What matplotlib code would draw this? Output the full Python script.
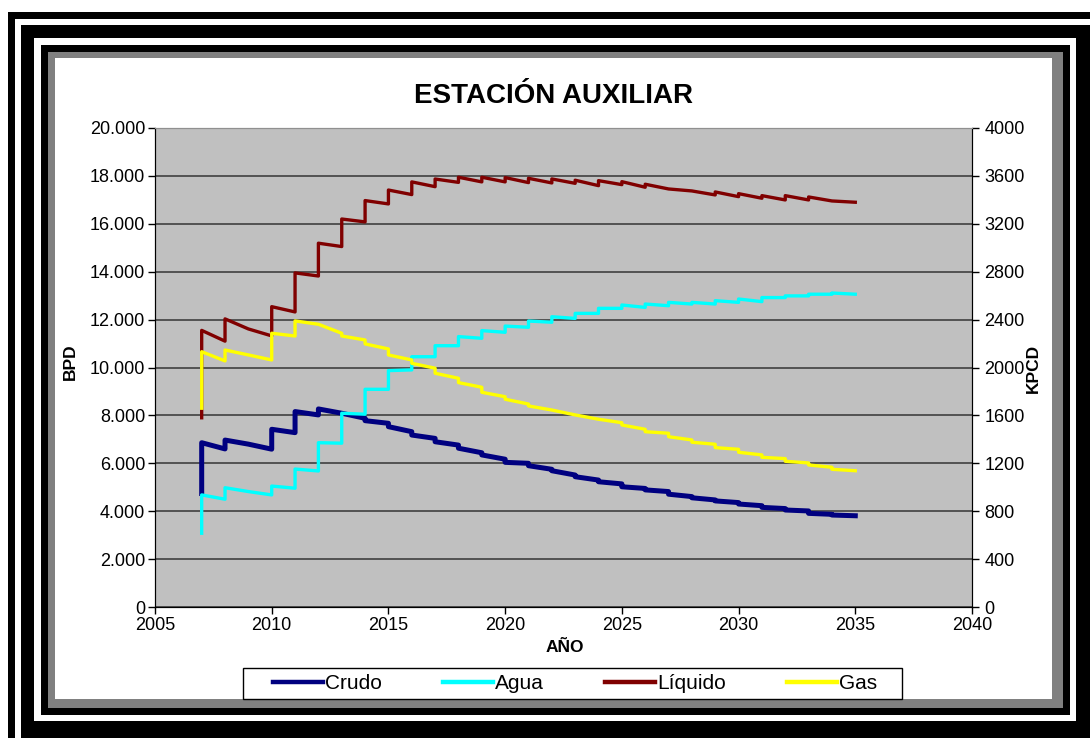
import matplotlib
matplotlib.use("Agg")
import matplotlib.pyplot as plt
from matplotlib.patches import Rectangle
from matplotlib.ticker import FuncFormatter, MultipleLocator

plt.rcParams['font.family'] = ['Liberation Sans', 'DejaVu Sans']

# años de cada salto (escalón anual)
anios = list(range(2007, 2036))

# valor al final del año anterior (antes del salto) y al inicio del año (después del salto)
crudo_fin = [4740, 6600, 6800, 6590, 7280, 8020, 8090, 7880, 7670, 7320, 7040, 6760, 6440, 6170,
             6000, 5750, 5510, 5300, 5140, 4950, 4820, 4610, 4470, 4360, 4230, 4110, 4010, 3870, 3810]
crudo_ini = [6860, 6970, 6800, 7420, 8160, 8270, 8090, 7780, 7530, 7180, 6900, 6630, 6350, 6040,
             5900, 5690, 5440, 5230, 5020, 4890, 4710, 4560, 4430, 4300, 4160, 4050, 3910, 3840, 3810]

agua_fin = [3080, 4500, 4820, 4680, 4960, 5680, 6840, 8050, 9090, 9900, 10450, 10910, 11220, 11470,
            11680, 11890, 12050, 12260, 12470, 12510, 12580, 12650, 12650, 12720, 12750, 12920, 12990, 13060, 13060]
agua_ini = [4680, 4980, 4820, 5050, 5760, 6860, 8090, 9090, 9870, 10450, 10910, 11290, 11540, 11730,
            11940, 12120, 12260, 12470, 12610, 12650, 12720, 12720, 12790, 12860, 12920, 12990, 13060, 13110, 13060]

liquido_fin = [7900, 11100, 11610, 11320, 12320, 13820, 15050, 16080, 16830, 17220, 17550, 17730, 17750, 17750,
               17720, 17706, 17690, 17593, 17635, 17526, 17455, 17372, 17205, 17134, 17067, 16996, 16996, 16954, 16900]
liquido_ini = [11550, 12030, 11610, 12540, 13950, 15190, 16200, 16970, 17410, 17750, 17870, 17945, 17945, 17930,
               17900, 17873, 17820, 17802, 17760, 17652, 17455, 17372, 17330, 17259, 17176, 17176, 17121, 16954, 16900]

# gas en KPCD (eje derecho)
gas_fin = [1660, 2055, 2105, 2063, 2263, 2361, 2286, 2230, 2155, 2063, 1994, 1910, 1835, 1756,
           1695, 1645, 1604, 1568, 1539, 1484, 1451, 1395, 1359, 1317, 1270, 1239, 1203, 1167, 1138]
gas_ini = [2132, 2146, 2105, 2286, 2389, 2361, 2263, 2197, 2105, 2035, 1952, 1874, 1793, 1735,
           1679, 1645, 1604, 1568, 1520, 1464, 1422, 1376, 1331, 1292, 1250, 1217, 1186, 1150, 1138]


def escalon(xs_anios, fin, ini):
    xs, ys = [], []
    for a, f, i in zip(xs_anios, fin, ini):
        xs += [a, a]
        ys += [f, i]
    return xs, ys


W, H = 1090, 738
fig = plt.figure(figsize=(W / 100, H / 100), dpi=100)

# marco decorativo (coordenadas en pixeles)
bg = fig.add_axes([0, 0, 1, 1], zorder=-10)
bg.set_xlim(0, W)
bg.set_ylim(H, 0)
bg.axis('off')
marcos = [
    (8, 12, 1200, 1000, 'black'),
    (15, 19, 1200, 1000, 'white'),
    (21, 25, 1200, 1000, 'black'),
    (34, 38, 1076 - 34, 721 - 38, 'white'),
    (41, 45, 1070 - 41, 715 - 45, 'black'),
    (48, 52, 1063 - 48, 708 - 52, '#808080'),
    (55, 58, 1052 - 55, 699 - 58, 'white'),
]
for x, y, w, h, c in marcos:
    bg.add_patch(Rectangle((x, y), w, h, facecolor=c, edgecolor='none'))
# caja de la leyenda
bg.add_patch(Rectangle((243, 668), 902 - 243, 31, facecolor='white', edgecolor='black', lw=1))

ax = fig.add_axes([155 / W, 1 - 607 / H, (972 - 155) / W, (607 - 128) / H])
ax.set_facecolor('#C0C0C0')

x, y = escalon(anios, crudo_fin, crudo_ini)
ax.plot(x, y, color='#000080', lw=3.6, label='Crudo', solid_joinstyle='round')
x, y = escalon(anios, agua_fin, agua_ini)
ax.plot(x, y, color='#00FFFF', lw=2.4, label='Agua')
x, y = escalon(anios, liquido_fin, liquido_ini)
ax.plot(x, y, color='#800000', lw=2.4, label='Líquido')

ax.set_xlim(2005, 2040)
ax.set_ylim(0, 20000)
ax.xaxis.set_major_locator(MultipleLocator(5))
ax.yaxis.set_major_locator(MultipleLocator(2000))
ax.yaxis.set_major_formatter(FuncFormatter(lambda v, p: f"{int(v):,}".replace(",", ".")))
ax.grid(axis='y', color='#404040', lw=1.2)
ax.set_axisbelow(True)
ax.tick_params(direction='out', length=5, width=1, labelsize=13, colors='black', pad=2)
for s in ['left', 'bottom', 'right']:
    ax.spines[s].set_color('black')
ax.spines['top'].set_color('#909090')

ax2 = ax.twinx()
x, y = escalon(anios, gas_fin, gas_ini)
ax2.plot(x, y, color='#FFFF00', lw=2.4, label='Gas')
ax2.set_ylim(0, 4000)
ax2.yaxis.set_major_locator(MultipleLocator(400))
ax2.tick_params(direction='out', length=5, width=1, labelsize=13, pad=4)
ax2.spines['right'].set_color('black')
ax2.spines['top'].set_color('#909090')

fig.text(553 / W, 1 - 96 / H, 'ESTACIÓN AUXILIAR', ha='center', va='center',
         fontsize=20, fontweight='bold')
fig.text(70 / W, 1 - 362 / H, 'BPD', rotation=90, ha='center', va='center',
         fontsize=12.5, fontweight='bold')
fig.text(1033 / W, 1 - 368 / H, 'KPCD', rotation=90, ha='center', va='center',
         fontsize=12.5, fontweight='bold')
fig.text(565 / W, 1 - 648 / H, 'AÑO', ha='center', va='center',
         fontsize=12.5, fontweight='bold')

h1, l1 = ax.get_legend_handles_labels()
h2, l2 = ax2.get_legend_handles_labels()
leg = fig.legend(h1 + h2, l1 + l2, ncol=4, mode='expand',
                 bbox_to_anchor=(273 / W, 1 - 699 / H, (877 - 273) / W, 31 / H),
                 loc='center', fontsize=15, handlelength=2.4, handletextpad=0.1,
                 frameon=False, borderaxespad=0, borderpad=0.0)
for ln in leg.get_lines():
    ln.set_linewidth(3.2)

fig.savefig('out.png', dpi=100)
